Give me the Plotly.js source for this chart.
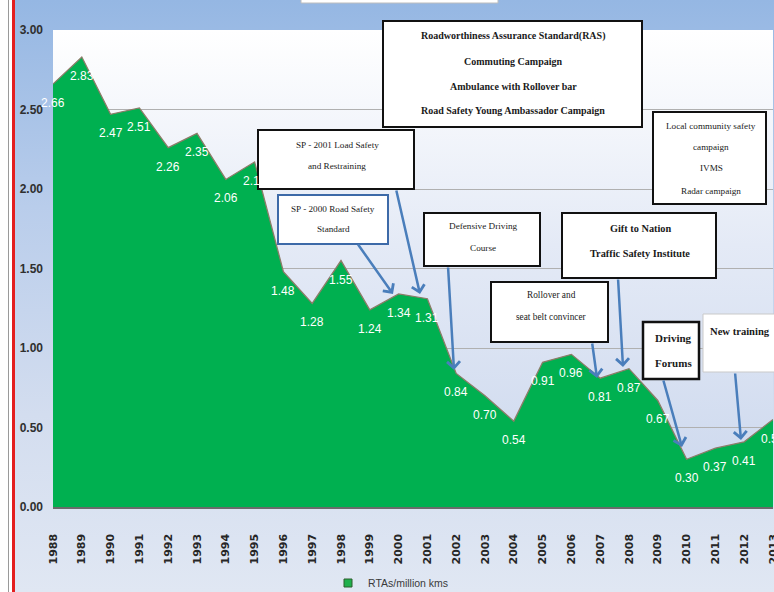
<!DOCTYPE html>
<html>
<head>
<meta charset="utf-8">
<script src="https://cdn.plot.ly/plotly-3.0.1.min.js"></script>
<style>
  html, body { margin: 0; padding: 0; background: #ffffff; }
  #wrap { position: relative; width: 774px; height: 592px; overflow: hidden; background: #ffffff; }
  #bg { position: absolute; left: 15px; top: 0; width: 759px; height: 592px;
        background: linear-gradient(to bottom, #95b7e3 0%, #b9cdeb 35%, #d3ddef 70%, #e0e7f3 100%); }
  #plotbg { position: absolute; left: 53px; top: 30px; width: 720px; height: 477px;
        background: linear-gradient(to bottom, #ffffff 0%, #e4eaf6 45%, #cbd7ed 100%); }
  #greyline { position: absolute; left: 8px; top: 0; width: 1px; height: 592px; background: #9a9a9a; }
  #redline { position: absolute; left: 12px; top: 0; width: 3px; height: 592px; background: #e41e1e; }
  #chart { position: absolute; left: 0; top: 0; width: 774px; height: 592px; }
</style>
</head>
<body>
<div id="wrap">
  <div id="bg"></div>
  <div id="plotbg"></div>
  <div id="greyline"></div>
  <div id="redline"></div>
  <div id="chart"></div>
</div>
<script>
// ---- data ----
const years = [1988, 1989, 1990, 1991, 1992, 1993, 1994, 1995, 1996, 1997, 1998, 1999, 2000,
               2001, 2002, 2003, 2004, 2005, 2006, 2007, 2008, 2009, 2010, 2011, 2012, 2013];
const rtaRate = [2.66, 2.83, 2.47, 2.51, 2.26, 2.35, 2.06, 2.17, 1.48, 1.28, 1.55, 1.24, 1.34,
                 1.31, 0.84, 0.70, 0.54, 0.91, 0.96, 0.81, 0.87, 0.67, 0.30, 0.37, 0.41, 0.55];
const yearLabels = years.map(String);
const yTicks = [0, 0.5, 1, 1.5, 2, 2.5, 3];
const yTickLabels = ['0.00', '0.50', '1.00', '1.50', '2.00', '2.50', '3.00'];
const seriesName = 'RTAs/million kms';

// ---- helpers: convert page pixels into paper coordinates ----
const L = 53, T = 30, W = 720, H = 477;
const fx = p => (p - L) / W;
const fy = p => (T + H - p) / H;

const serif = '"Liberation Serif", "DejaVu Serif", serif';
const narrow = '"Liberation Sans Narrow", "Liberation Sans", Arial, sans-serif';

// boxes: [x0, y0, x1, y1, lineColor, lineWidth]
const boxes = [
  [383, 21, 642, 127, '#111111', 2],
  [653, 112, 766, 204, '#111111', 2],
  [258, 130, 414, 189, '#111111', 2],
  [278, 195, 388, 244, '#3d6aa8', 2],
  [424, 213, 540, 266, '#111111', 2],
  [562, 213, 716, 278, '#111111', 2],
  [491, 282, 608, 342, '#111111', 2],
  [643, 322, 699, 379, '#111111', 2.5],
  [703, 314, 800, 372, '#c9c9c9', 1],
  [301, -10, 498, 3, '#bdbdbd', 1]
];

// text lines: [text, cx, cy, size, bold]
const lines = [
  ['Roadworthiness Assurance Standard(RAS)', 513, 36, 10, true],
  ['Commuting Campaign', 513, 61, 10, true],
  ['Ambulance with Rollover bar', 513, 86, 10, true],
  ['Road Safety Young Ambassador Campaign', 513, 111, 10, true],
  ['Local community safety', 711, 126, 9.2, false],
  ['campaign', 711, 147, 9.2, false],
  ['IVMS', 711, 168, 9.2, false],
  ['Radar campaign', 711, 191, 9.2, false],
  ['SP - 2001 Load Safety', 337, 145, 9.2, false],
  ['and Restraining', 337, 166, 9.2, false],
  ['SP - 2000 Road Safety', 333, 209, 9.2, false],
  ['Standard', 333, 229, 9.2, false],
  ['Defensive Driving', 483, 226, 9.2, false],
  ['Course', 483, 248, 9.2, false],
  ['Gift to Nation', 640, 228, 10.3, true],
  ['Traffic Safety Institute', 640, 254, 10.3, true],
  ['Rollover and', 551, 295, 9.3, false],
  ['seat belt convincer', 551, 317, 9.3, false],
  ['Driving', 673, 338, 11, true],
  ['Forums', 673, 363, 11, true],
  ['New training', 740, 332, 10.6, true]
];

// arrows: [tailX, tailY, tipX, tipY]
const arrows = [
  [357, 243, 393, 294],
  [396, 189, 420, 294],
  [448, 266, 454, 370],
  [592, 342, 597, 378],
  [618, 278, 623, 367],
  [663, 379, 682, 447],
  [735, 372, 741, 440]
];

const shapes = boxes.map(b => ({
  type: 'rect', xref: 'paper', yref: 'paper',
  x0: fx(b[0]), x1: fx(b[2]), y0: fy(b[3]), y1: fy(b[1]),
  fillcolor: '#ffffff', line: {color: b[4], width: b[5]}, layer: 'above'
}));

const annotations = [];
// data labels
years.forEach((yr, i) => {
  annotations.push({
    x: yr, y: rtaRate[i], xref: 'x', yref: 'y',
    text: rtaRate[i].toFixed(2), showarrow: false, yshift: -19,
    font: {family: narrow, size: 12, color: '#ffffff'}
  });
});
lines.forEach(l => {
  annotations.push({
    x: fx(l[1]), y: fy(l[2]), xref: 'paper', yref: 'paper',
    xanchor: 'center', yanchor: 'middle', showarrow: false,
    text: l[0],
    font: {family: serif, size: l[3], color: '#1a1a1a', weight: l[4] ? 'bold' : 'normal'}
  });
});
arrows.forEach(a => {
  annotations.push({
    x: fx(a[2]), y: fy(a[3]), xref: 'paper', yref: 'paper',
    ax: a[0] - a[2], ay: a[1] - a[3],
    text: '', showarrow: true, arrowhead: 4, arrowsize: 1, arrowwidth: 2.5,
    arrowcolor: '#4a7ebb', standoff: 0, startstandoff: 0
  });
});

const traces = [
  {
    x: years, y: rtaRate, type: 'scatter', mode: 'lines', fill: 'tozeroy',
    fillcolor: '#00b050', line: {color: '#8c7c68', width: 1.3},
    showlegend: false, hoverinfo: 'skip', cliponaxis: false
  },
  {
    x: [null], y: [null], type: 'scatter', mode: 'markers', name: seriesName,
    marker: {symbol: 'square', size: 8, color: '#1fb04c', line: {color: '#2d5f2d', width: 1}},
    hoverinfo: 'skip'
  }
];

const layout = {
  width: 774, height: 592,
  margin: {l: L, r: 774 - L - W, t: T, b: 592 - T - H, pad: 0, autoexpand: false},
  paper_bgcolor: 'rgba(0,0,0,0)',
  plot_bgcolor: 'rgba(0,0,0,0)',
  showlegend: true,
  legend: {
    orientation: 'h', x: fx(328), y: fy(583), xanchor: 'left', yanchor: 'middle',
    bgcolor: 'rgba(0,0,0,0)', borderwidth: 0,
    font: {family: '"Liberation Sans", Arial, sans-serif', size: 10.5, color: '#3a3a3a'}
  },
  xaxis: {
    range: [1988, 2013], tickmode: 'array', tickvals: years, ticktext: yearLabels,
    tickangle: -90, ticks: '', ticklabelstandoff: 21, ticklabeloverflow: 'allow',
    tickfont: {family: '"DejaVu Sans", Verdana, sans-serif', size: 11, color: '#262626', weight: 'bold'},
    showgrid: false, zeroline: false, showline: true, linecolor: '#6b6b6b', linewidth: 1.5,
    fixedrange: true
  },
  yaxis: {
    range: [0, 3], tickmode: 'array', tickvals: yTicks, ticktext: yTickLabels,
    ticks: '', ticklabelstandoff: 9,
    tickfont: {family: '"Liberation Sans", Arial, sans-serif', size: 12, color: '#2f2f2f', weight: 'bold'},
    showgrid: true, gridcolor: '#b0b0b0', gridwidth: 1, zeroline: false, showline: false,
    fixedrange: true
  },
  shapes: shapes,
  annotations: annotations
};

Plotly.newPlot('chart', traces, layout, {displayModeBar: false, staticPlot: true});
</script>
</body>
</html>
